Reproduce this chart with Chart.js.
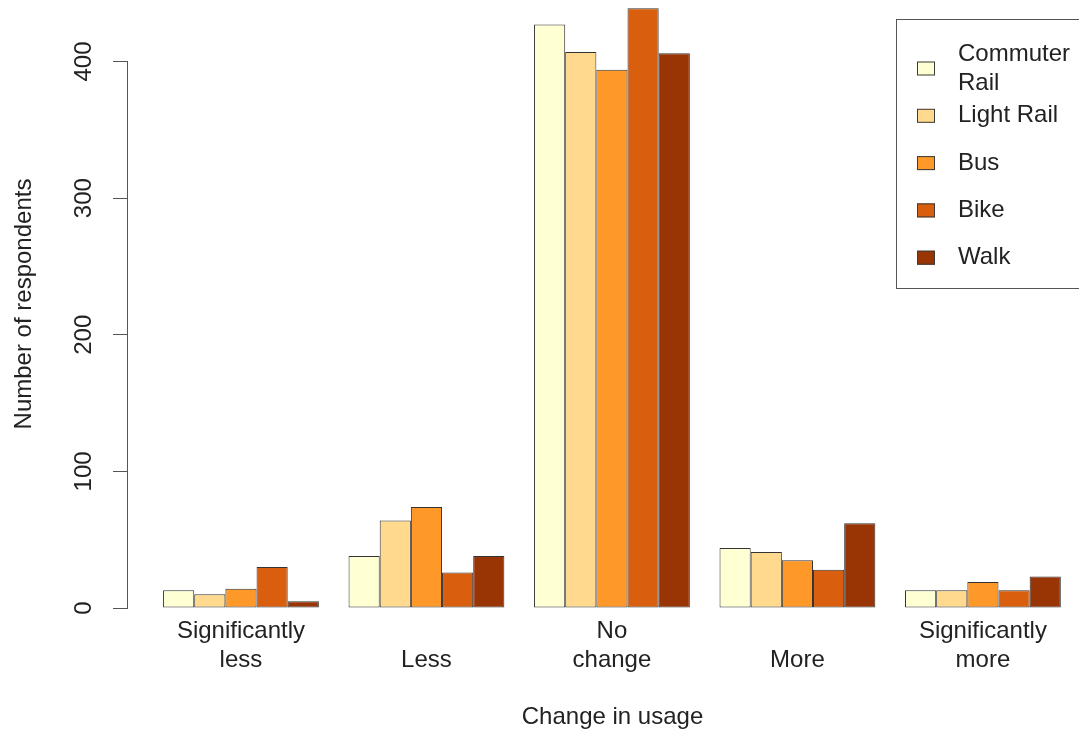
<!DOCTYPE html>
<html>
<head>
<meta charset="utf-8">
<title>Change in usage</title>
<script src="https://cdn.jsdelivr.net/npm/chart.js@4.4.0/dist/chart.umd.min.js"></script>
<style>
  html, body { margin: 0; padding: 0; background: #fff; overflow: hidden; }
  #wrap { width: 1079px; height: 734px; overflow: hidden; }
  #chart { display: block; }
</style>
</head>
<body>
<!-- plot region runs a little past the right edge, as in the R original -->
<div id="wrap"><canvas id="chart" width="1097" height="734"></canvas></div>
<script>
// Values
const categories = ["Significantly less", "Less", "No change", "More", "Significantly more"];
const xTickLabels = [["Significantly", "less"], ["", "Less"], ["No", "change"], ["", "More"], ["Significantly", "more"]];
const seriesNames = ["Commuter\nRail", "Light Rail", "Bus", "Bike", "Walk"];
const commuterRail = [13, 38, 427, 44, 13];
const lightRail = [10, 64, 407, 41, 13];
const bus = [14, 74, 394, 35, 19];
const bike = [30, 26, 439, 28, 13];
const walk = [5, 38, 406, 62, 23];
const yTicks = [0, 100, 200, 300, 400];

const seriesValues = [commuterRail, lightRail, bus, bike, walk];
const seriesColors = ["#ffffd4", "#fed98e", "#fe9929", "#d95f0e", "#993404"];
const fontFamily = "'Liberation Sans', Arial, Helvetica, sans-serif";
const textColor = "#222";
const lineColor = "#555";

// R style y axis line: only spans from the first to the last tick
const axisLinePlugin = {
  id: "axisLine",
  afterDraw(chart) {
    const y = chart.scales.y;
    const ctx = chart.ctx;
    const x = Math.round(y.right) - 0.5;
    ctx.save();
    ctx.strokeStyle = lineColor;
    ctx.lineWidth = 1;
    ctx.beginPath();
    ctx.moveTo(x, Math.round(y.getPixelForValue(yTicks[0])) + 0.5);
    ctx.lineTo(x, Math.round(y.getPixelForValue(yTicks[yTicks.length - 1])) + 0.5);
    ctx.stroke();
    ctx.restore();
  }
};

// Boxed legend in the top right corner, like R's legend()
const boxLegendPlugin = {
  id: "boxLegend",
  afterDraw(chart) {
    const ctx = chart.ctx;
    const area = chart.chartArea;
    const left = area.right - 201;
    const top = area.top + 19;
    const rowH = 47.3;
    const lineH = 29;
    const sets = chart.data.datasets;
    const height = sets.length * rowH + 32;
    ctx.save();
    ctx.strokeStyle = lineColor;
    ctx.lineWidth = 1;
    ctx.strokeRect(Math.round(left) + 0.5, Math.round(top) + 0.5, 200, Math.round(height));
    ctx.font = "24px " + fontFamily;
    ctx.textBaseline = "middle";
    ctx.textAlign = "left";
    sets.forEach((ds, i) => {
      const cy = top + 49.5 + i * rowH;
      ctx.fillStyle = ds.backgroundColor;
      ctx.fillRect(left + 21, cy - 7, 18, 14);
      ctx.strokeStyle = "#3a3a3a";
      ctx.strokeRect(left + 21.5, cy - 6.5, 17, 13);
      const lines = ds.label.split("\n");
      ctx.fillStyle = textColor;
      lines.forEach((ln, k) => {
        ctx.fillText(ln, left + 62, cy + (k - (lines.length - 1) / 2) * lineH);
      });
    });
    ctx.restore();
  }
};

const datasets = seriesValues.map((vals, s) => ({
  label: seriesNames[s],
  data: vals.map((v, i) => ({ x: i, y: v })),
  backgroundColor: seriesColors[s],
  borderColor: "#333",
  borderWidth: 1,
  borderSkipped: false,
  categoryPercentage: 0.84,
  barPercentage: 1
}));

const chart = new Chart(document.getElementById("chart"), {
  type: "bar",
  data: { datasets: datasets },
  plugins: [axisLinePlugin, boxLegendPlugin],
  options: {
    responsive: false,
    animation: false,
    devicePixelRatio: 1,
    layout: { padding: 0 },
    plugins: {
      legend: { display: false },
      tooltip: { enabled: false }
    },
    scales: {
      x: {
        type: "linear",
        offset: false,
        min: -0.609,
        max: 4.615,
        afterBuildTicks: (scale) => {
          scale.ticks = categories.map((c, i) => ({ value: i }));
        },
        afterFit: (scale) => {
          scale.height = 126;
          scale.paddingLeft = 0;
          scale.paddingRight = 0;
        },
        grid: { display: false, drawTicks: false },
        border: { display: false },
        ticks: {
          callback: (value, index) => xTickLabels[index],
          maxRotation: 0,
          minRotation: 0,
          autoSkip: false,
          padding: 9,
          color: textColor,
          font: { family: fontFamily, size: 24, lineHeight: 1.2 }
        },
        title: {
          display: true,
          text: "Change in usage",
          color: textColor,
          font: { family: fontFamily, size: 24, lineHeight: 1.2 },
          padding: { top: 0, bottom: 2 }
        }
      },
      y: {
        min: 0,
        max: 445,
        afterBuildTicks: (scale) => {
          scale.ticks = yTicks.map((v) => ({ value: v }));
        },
        afterFit: (scale) => {
          scale.width = 128;
          scale.paddingTop = 0;
          scale.paddingBottom = 0;
        },
        grid: {
          display: true,
          drawOnChartArea: false,
          drawTicks: true,
          tickLength: 15,
          color: lineColor,
          tickColor: lineColor,
          lineWidth: 1
        },
        border: { display: false },
        ticks: {
          minRotation: 90,
          maxRotation: 90,
          crossAlign: "center",
          padding: 9,
          color: textColor,
          font: { family: fontFamily, size: 24 }
        },
        title: {
          display: true,
          text: "Number of respondents",
          color: textColor,
          font: { family: fontFamily, size: 24, lineHeight: 1.2 },
          padding: { top: 10, bottom: 0 }
        }
      }
    }
  }
});
</script>
</body>
</html>
